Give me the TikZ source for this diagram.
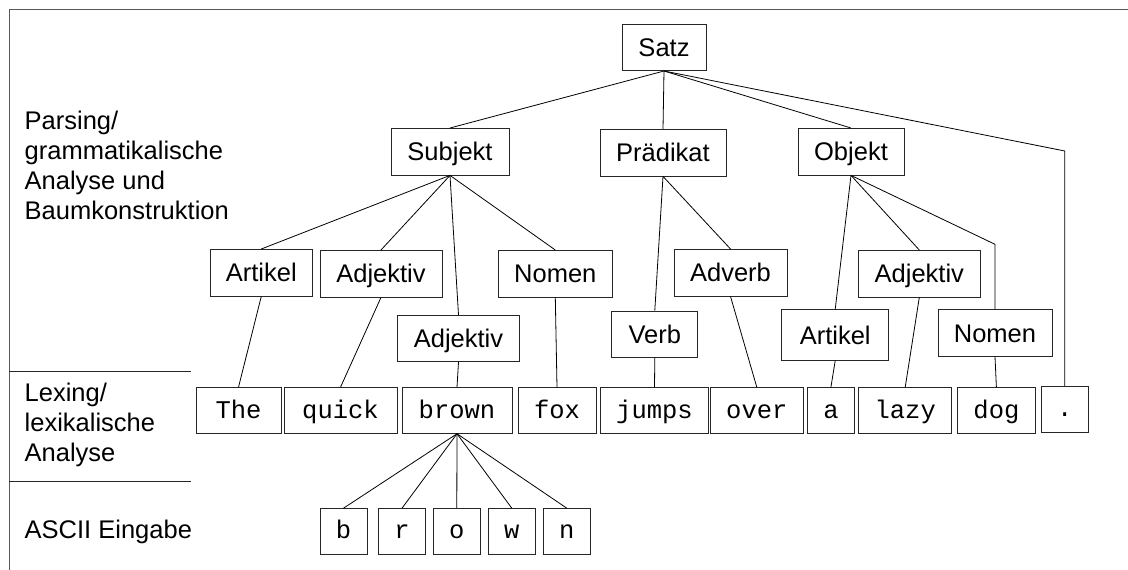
\documentclass[tikz,border=0pt]{standalone}
\usepackage{fontspec}
\setmainfont{Liberation Sans}
\setmonofont{Liberation Mono}
\begin{document}
\begin{tikzpicture}[x=1pt,y=-1pt,
  box/.style={draw=black!85, line width=0.9pt, inner sep=0pt, minimum height=46.5pt, text height=18.3pt, text depth=0pt, font=\fontsize{25.5}{30}\selectfont},
  tok/.style={draw=black!85, line width=0.9pt, inner sep=0pt, minimum height=45.6pt, text height=15pt, text depth=0pt, font=\fontsize{25.5}{30}\ttfamily},
  edge/.style={draw=black, line width=0.8pt},
  lbl/.style={anchor=west, align=left, inner sep=0pt, font=\fontsize{25.5}{30}\selectfont}]
\useasboundingbox (0,0) rectangle (1128,570);
% frame
\draw[black!65, line width=1.4pt] (9.4,570) -- (9.4,9.4) -- (1128,9.4);
\draw[black!85, line width=0.9pt] (9.4,371) -- (190.6,371);
\draw[black!85, line width=0.9pt] (9.4,481.7) -- (190.6,481.7);
% side labels
\node[lbl] (lparse) at (24.5,165) {Parsing/\\grammatikalische\\Analyse und\\Baumkonstruktion};
\node[lbl] (llex) at (24.5,425) {Lexing/\\lexikalische\\Analyse};
\node[lbl] (lascii) at (24.5,531.7) {ASCII Eingabe};
% tree nodes
\node[box, minimum width=84pt] (satz) at (664,47.3) {Satz};
\node[box, minimum width=118pt] (subj) at (450,151.7) {Subjekt};
\node[box, minimum width=126pt] (praed) at (663,152.7) {Prädikat};
\node[box, minimum width=106pt] (obj) at (851,151.7) {Objekt};
\node[box, minimum width=102.6pt] (art1) at (261.3,272.7) {Artikel};
\node[box, minimum width=122pt] (adj1) at (381,273.7) {Adjektiv};
\node[box, minimum width=114.6pt] (nom1) at (555.3,273.7) {Nomen};
\node[box, minimum width=113pt] (adv) at (730.5,272.7) {Adverb};
\node[box, minimum width=121.4pt] (adj3) at (919.3,273.7) {Adjektiv};
\node[box, minimum width=122pt] (adj2) at (458.5,338.5) {Adjektiv};
\node[box, minimum width=86pt] (verb) at (654.8,334.2) {Verb};
\node[box, minimum width=107pt, minimum height=50.5pt] (art2) at (835.2,335) {Artikel};
\node[box, minimum width=114pt] (nom2) at (995,333) {Nomen};
% tokens
\node[tok, minimum width=85pt] (the) at (238.5,410.5) {The};
\node[tok, minimum width=113pt] (quick) at (340.5,410.5) {quick};
\node[tok, minimum width=110pt] (brown) at (457,410.5) {brown};
\node[tok, minimum width=78pt] (fox) at (557,410.5) {fox};
\node[tok, minimum width=108.3pt] (jumps) at (654.5,410.5) {jumps};
\node[tok, minimum width=92.8pt] (over) at (756.8,410.5) {over};
\node[tok, minimum width=46.8pt] (a) at (830.9,410.5) {a};
\node[tok, minimum width=93.2pt] (lazy) at (905.2,410.5) {lazy};
\node[tok, minimum width=77.7pt] (dog) at (996.4,410.5) {dog};
\node[tok, minimum width=47.5pt, minimum height=45.3pt] (dot) at (1064.8,409.3) {.};
% letters
\node[tok, minimum width=47pt, minimum height=45.3pt] (cb) at (343.5,531.3) {b};
\node[tok, minimum width=47pt, minimum height=45.3pt] (cr) at (402,531.3) {r};
\node[tok, minimum width=47pt, minimum height=45.3pt] (co) at (456.8,531.3) {o};
\node[tok, minimum width=47pt, minimum height=45.3pt] (cw) at (511.8,531.3) {w};
\node[tok, minimum width=47pt, minimum height=45.3pt] (cn) at (566.8,531.3) {n};
% bend points
\coordinate (bdot) at (1064.8,151);
\coordinate (bnom) at (995,244.3);
% edges
\path[edge] (satz.south) -- (subj.north);
\path[edge] (satz.south) -- (praed.north);
\path[edge] (satz.south) -- (obj.north);
\path[edge] (satz.south) -- (bdot) -- (dot.north);
\path[edge] (subj.south) -- (art1.north);
\path[edge] (subj.south) -- (adj1.north);
\path[edge] (subj.south) -- (adj2.north);
\path[edge] (subj.south) -- (nom1.north);
\path[edge] (praed.south) -- (verb.north);
\path[edge] (praed.south) -- (adv.north);
\path[edge] (obj.south) -- (art2.north);
\path[edge] (obj.south) -- (adj3.north);
\path[edge] (obj.south) -- (bnom) -- (nom2.north);
\path[edge] (art1.south) -- (the.north);
\path[edge] (adj1.south) -- (quick.north);
\path[edge] (adj2.south) -- (brown.north);
\path[edge] (nom1.south) -- (fox.north);
\path[edge] (verb.south) -- (jumps.north);
\path[edge] (adv.south) -- (over.north);
\path[edge] (art2.south) -- (a.north);
\path[edge] (adj3.south) -- (lazy.north);
\path[edge] (nom2.south) -- (dog.north);
\path[edge] (brown.south) -- (cb.north);
\path[edge] (brown.south) -- (cr.north);
\path[edge] (brown.south) -- (co.north);
\path[edge] (brown.south) -- (cw.north);
\path[edge] (brown.south) -- (cn.north);
\end{tikzpicture}
\end{document}
